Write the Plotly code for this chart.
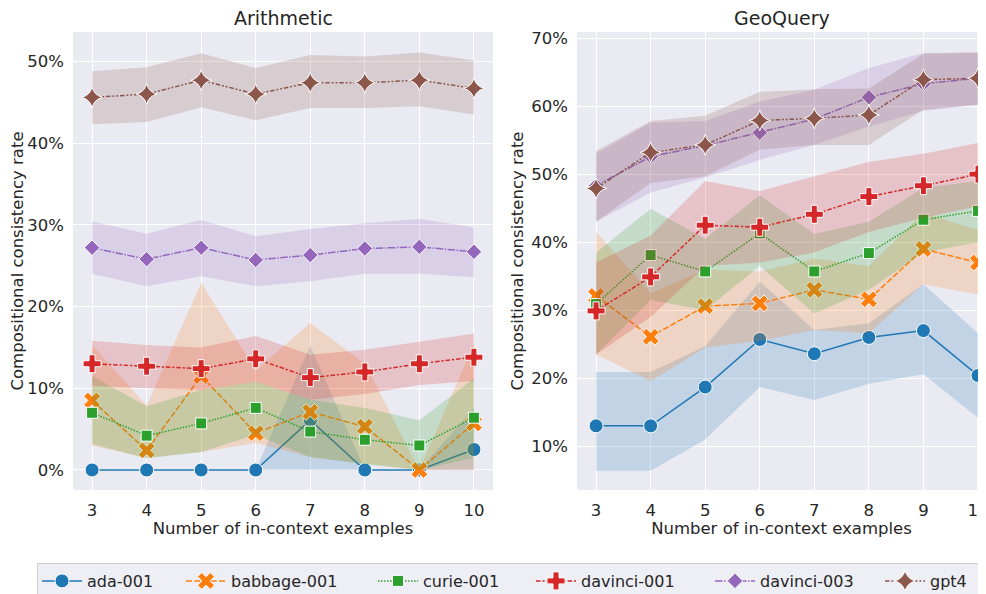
import plotly.graph_objects as go

shots = [3, 4, 5, 6, 7, 8, 9, 10]
models = ["ada-001", "babbage-001", "curie-001", "davinci-001", "davinci-003", "gpt4"]
colors = ["#1f77b4", "#ff7f0e", "#2ca02c", "#d62728", "#9467bd", "#8c564b"]

# ---- Arithmetic (percent) ----
arith_mean = {
    "ada-001":     [0.0, 0.0, 0.0, 0.0, 6.1, 0.0, 0.0, 2.5],
    "babbage-001": [8.5, 2.4, 11.5, 4.5, 7.1, 5.3, 0.0, 5.7],
    "curie-001":   [7.0, 4.2, 5.7, 7.6, 4.7, 3.7, 3.0, 6.4],
    "davinci-001": [13.0, 12.7, 12.4, 13.6, 11.3, 12.0, 13.0, 13.8],
    "davinci-003": [27.2, 25.8, 27.2, 25.7, 26.3, 27.1, 27.3, 26.7],
    "gpt4":        [45.6, 46.0, 47.7, 46.0, 47.4, 47.4, 47.7, 46.7],
}
arith_lo = {
    "ada-001":     [0.0, 0.0, 0.0, 0.0, 0.0, 0.0, 0.0, 0.0],
    "babbage-001": [3.0, 1.5, 2.2, 3.3, 1.6, 0.8, 0.0, 0.0],
    "curie-001":   [3.2, 1.4, 2.2, 4.3, 1.6, 0.7, 0.0, 1.5],
    "davinci-001": [10.3, 10.0, 9.8, 10.8, 8.6, 9.3, 10.4, 10.9],
    "davinci-003": [24.0, 22.5, 23.7, 22.5, 23.1, 24.0, 24.0, 23.6],
    "gpt4":        [42.3, 42.6, 44.4, 42.8, 44.3, 44.3, 44.5, 43.5],
}
arith_hi = {
    "ada-001":     [0.0, 0.0, 0.0, 0.0, 15.2, 0.0, 0.0, 7.6],
    "babbage-001": [15.3, 7.9, 22.9, 12.2, 18.0, 13.0, 0.0, 15.5],
    "curie-001":   [11.5, 7.8, 9.8, 10.8, 8.6, 7.6, 6.1, 11.2],
    "davinci-001": [15.8, 15.3, 15.0, 16.4, 14.1, 14.7, 15.7, 16.7],
    "davinci-003": [30.4, 28.9, 30.6, 28.6, 29.5, 30.2, 30.7, 29.7],
    "gpt4":        [48.8, 49.3, 51.0, 49.2, 50.8, 50.6, 51.1, 50.1],
}

# ---- GeoQuery (percent) ----
geo_mean = {
    "ada-001":     [13.0, 13.0, 18.7, 25.7, 23.6, 26.0, 27.0, 20.4],
    "babbage-001": [32.1, 26.1, 30.6, 31.0, 33.0, 31.6, 39.0, 37.0],
    "curie-001":   [30.9, 38.1, 35.7, 41.3, 35.7, 38.4, 43.3, 44.6],
    "davinci-001": [29.9, 34.9, 42.5, 42.2, 44.1, 46.7, 48.3, 50.0],
    "davinci-003": [48.3, 52.6, 54.2, 56.1, 58.1, 61.3, 63.3, 64.1],
    "gpt4":        [47.9, 53.2, 54.3, 57.9, 58.2, 58.7, 63.9, 64.1],
}
geo_lo = {
    "ada-001":     [6.4, 6.4, 11.0, 18.7, 16.8, 19.2, 20.6, 14.2],
    "babbage-001": [23.5, 19.6, 24.5, 25.5, 27.1, 26.6, 33.8, 32.3],
    "curie-001":   [23.5, 31.5, 30.0, 36.5, 29.5, 33.0, 38.5, 40.0],
    "davinci-001": [23.5, 29.0, 36.5, 37.0, 38.5, 41.5, 43.6, 45.3],
    "davinci-003": [43.0, 47.3, 49.5, 52.1, 54.3, 57.0, 59.3, 60.2],
    "gpt4":        [43.0, 48.7, 49.7, 53.6, 54.3, 54.3, 59.5, 60.2],
}
geo_hi = {
    "ada-001":     [20.9, 20.9, 24.7, 34.2, 27.1, 28.1, 33.8, 26.6],
    "babbage-001": [41.5, 32.5, 36.0, 35.7, 37.6, 36.5, 44.3, 41.8],
    "curie-001":   [38.5, 44.9, 40.5, 46.9, 41.2, 43.0, 48.0, 49.0],
    "davinci-001": [37.0, 41.0, 49.0, 47.5, 49.7, 51.8, 53.0, 54.6],
    "davinci-003": [53.0, 57.6, 57.8, 60.7, 62.4, 65.6, 67.8, 67.9],
    "gpt4":        [53.4, 57.8, 58.6, 62.1, 62.5, 62.6, 67.7, 67.9],
}

arith_yticks = [0, 10, 20, 30, 40, 50]
geo_yticks = [10, 20, 30, 40, 50, 60, 70]

symbols = ["circle", "x", "square", "cross", "diamond", "star-diamond"]
msizes = [14, 15, 11, 15, 12, 15]
dashes = ["solid", "6px,2.25px", "1.5px,1.5px", "4.5px,1.9px,2.25px,1.9px",
          "7.5px,1.5px,1.5px,1.5px", "4.5px,1.9px,1.9px,1.9px,1.9px,1.9px"]
legend_widths = [89, 137, 103, 124, 115, 60]

# page body has an 8px margin, so figure coords = window coords - 8
OFF = 8
W, H = 986 - OFF, 594 - OFF
TOP, BOT = 32 - OFF, 490 - OFF
PH = BOT - TOP
TXT = "#262626"
FS = 16.5


def px(xw):
    return (xw - OFF) / W


def rgba(hex_color, a):
    h = hex_color.lstrip("#")
    r, g, b = int(h[0:2], 16), int(h[2:4], 16), int(h[4:6], 16)
    return f"rgba({r},{g},{b},{a})"


fig = go.Figure()

panels = [("x", "y", arith_mean, arith_lo, arith_hi, True),
          ("x2", "y2", geo_mean, geo_lo, geo_hi, False)]

for xa, ya, mean, lo, hi, show in panels:
    for i, m in enumerate(models):
        fig.add_trace(go.Scatter(
            x=shots + shots[::-1], y=hi[m] + lo[m][::-1],
            xaxis=xa, yaxis=ya, mode="lines", fill="toself",
            fillcolor=rgba(colors[i], 0.2), line=dict(width=0, color=rgba(colors[i], 0)),
            hoverinfo="skip", showlegend=False))
        fig.add_trace(go.Scatter(
            x=shots, y=mean[m], xaxis=xa, yaxis=ya, name=m,
            mode="lines+markers", legendgroup=m, showlegend=show,
            legendwidth=legend_widths[i],
            line=dict(color=colors[i], width=1.5, dash=dashes[i]),
            marker=dict(symbol=symbols[i], size=msizes[i], color=colors[i],
                        line=dict(color="white", width=1))))

axis_common = dict(showgrid=True, gridcolor="white", gridwidth=1.2, zeroline=False,
                   showline=False, ticks="", tickfont=dict(size=FS, color=TXT),
                   ticklabelstandoff=8, ticklabeloverflow="allow")
ytitle = dict(text="Compositional consistency rate", font=dict(size=FS, color=TXT), standoff=3)
xtitle = dict(text="Number of in-context examples", font=dict(size=FS, color=TXT), standoff=3)

fig.update_layout(
    width=W, height=H,
    margin=dict(l=0, r=0, t=TOP, b=H - BOT, autoexpand=False),
    paper_bgcolor="white", plot_bgcolor="#EAEAF2",
    font=dict(family="DejaVu Sans", size=FS, color=TXT),
    xaxis=dict(domain=[px(73), px(493)], range=[2.65, 10.35], tickvals=shots,
               anchor="y", title=xtitle, **axis_common),
    yaxis=dict(domain=[0, 1], range=[-2.45, 53.6], tickvals=arith_yticks,
               ticktext=[f"{v}%" for v in arith_yticks], anchor="x",
               title=ytitle, **axis_common),
    xaxis2=dict(domain=[px(577), 1.0], range=[2.65, 10.147], tickvals=shots,
                anchor="y2", title=xtitle, **axis_common),
    yaxis2=dict(domain=[0, 1], range=[3.57, 70.9], tickvals=geo_yticks,
                ticktext=[f"{v}%" for v in geo_yticks], anchor="x2",
                title=ytitle, **axis_common),
    legend=dict(orientation="h", x=px(37), xanchor="left", y=-(563 - 490) / PH, yanchor="top",
                bgcolor="rgba(234,234,242,0.8)", bordercolor="#cccccc", borderwidth=1,
                font=dict(size=16, color=TXT), itemwidth=40, tracegroupgap=0),
    annotations=[
        dict(text="Arithmetic", x=px(283), y=(490 - 18) / PH, xref="paper", yref="paper",
             xanchor="center", yanchor="middle", showarrow=False, font=dict(size=19, color=TXT)),
        dict(text="GeoQuery", x=px(782), y=(490 - 18) / PH, xref="paper", yref="paper",
             xanchor="center", yanchor="middle", showarrow=False, font=dict(size=19, color=TXT)),
    ],
)

fig.write_html("out.html")
